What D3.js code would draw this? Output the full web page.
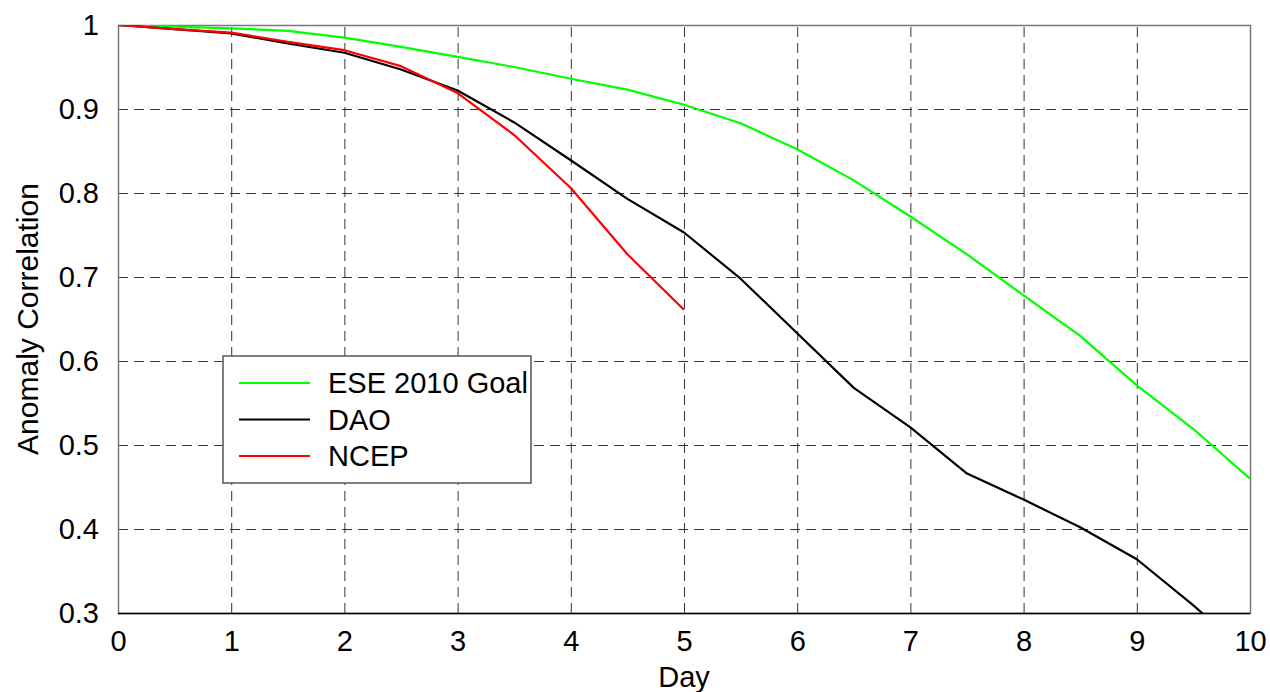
<!DOCTYPE html>
<head>
  <meta charset="utf-8">
  <title>Anomaly Correlation</title>
  <style>
    body { margin: 0; background: #fff; }
    text { font-family: "Liberation Sans", Arial, Helvetica, sans-serif; fill: #000; }
  </style>
</head>

<body>
  <div id="chart"></div>
<script src="https://cdn.jsdelivr.net/npm/d3@7/dist/d3.min.js"></script>
<script>

// days, every half day
var days = [0, 0.5, 1, 1.5, 2, 2.5, 3, 3.5, 4, 4.5, 5, 5.5, 6, 6.5, 7, 7.5, 8, 8.5, 9, 9.5, 10];

var goal = [1.0, 0.998, 0.996, 0.993, 0.985, 0.974, 0.962, 0.950, 0.936, 0.923, 0.905,
            0.883, 0.852, 0.815, 0.772, 0.727, 0.678, 0.630, 0.571, 0.519, 0.460];
var dao  = [1.0, 0.995, 0.990, 0.978, 0.967, 0.947, 0.922, 0.884, 0.839, 0.793, 0.753,
            0.698, 0.633, 0.568, 0.521, 0.466, 0.435, 0.402, 0.364, 0.309, 0.250];
var ncep = [1.0, 0.995, 0.991, 0.980, 0.970, 0.951, 0.919, 0.869, 0.806, 0.727, 0.661];

var xTicks = [0, 1, 2, 3, 4, 5, 6, 7, 8, 9, 10];
var yTicks = [0.3, 0.4, 0.5, 0.6, 0.7, 0.8, 0.9, 1];

var series = [
  {name: "ESE 2010 Goal", color: "#00ff00", values: goal},
  {name: "DAO", color: "#000000", values: dao},
  {name: "NCEP", color: "#ff0000", values: ncep}
];

var width = 1270,
    height = 692,
    margin = {top: 25, right: 20, bottom: 79, left: 118};

var x = d3.scaleLinear().domain([0, 10]).range([margin.left, width - margin.right]);
var y = d3.scaleLinear().domain([0.3, 1]).range([height - margin.bottom, margin.top]);

var svg = d3.select("#chart").append("svg")
    .attr("width", width)
    .attr("height", height);

svg.append("clipPath").attr("id", "plot")
  .append("rect")
    .attr("x", x(0)).attr("y", y(1))
    .attr("width", x(10) - x(0)).attr("height", y(0.3) - y(1));

// dashed grid
var grid = svg.append("g")
    .attr("stroke", "#333")
    .attr("stroke-width", 1)
    .attr("stroke-dasharray", "10,6");

grid.selectAll(".vgrid")
  .data(xTicks.slice(1, -1))
  .enter().append("line")
    .attr("x1", d => x(d) + 0.5).attr("x2", d => x(d) + 0.5)
    .attr("y1", y(0.3)).attr("y2", y(1));

grid.selectAll(".hgrid")
  .data(yTicks.slice(1, -1))
  .enter().append("line")
    .attr("y1", d => Math.round(y(d)) + 0.5).attr("y2", d => Math.round(y(d)) + 0.5)
    .attr("x1", x(0)).attr("x2", x(10));

// frame
svg.append("rect")
    .attr("x", x(0) + 0.5).attr("y", y(1) + 0.5)
    .attr("width", x(10) - x(0)).attr("height", y(0.3) - y(1))
    .attr("fill", "none")
    .attr("stroke", "#777")
    .attr("stroke-width", 1.5);

svg.append("line")
    .attr("x1", x(0)).attr("x2", x(10))
    .attr("y1", y(0.3) + 0.5).attr("y2", y(0.3) + 0.5)
    .attr("stroke", "#000").attr("stroke-width", 1.5);

// axes (labels only, the frame carries the lines)
var xAxis = svg.append("g")
    .attr("transform", "translate(0," + y(0.3) + ")")
    .call(d3.axisBottom(x).tickValues(xTicks).tickSize(0).tickPadding(17).tickFormat(d3.format("d")));
var yAxis = svg.append("g")
    .attr("transform", "translate(" + x(0) + ",0)")
    .call(d3.axisLeft(y).tickValues(yTicks).tickSize(0).tickPadding(19).tickFormat(d => d === 1 ? "1" : d3.format(".1f")(d)));

[xAxis, yAxis].forEach(function(a) {
  a.select(".domain").remove();
  a.selectAll("text").style("font-size", "29px").attr("fill", "#000");
});

// curves
var line = d3.line()
    .x((d, i) => x(days[i]))
    .y(d => y(d));

svg.append("g")
    .attr("clip-path", "url(#plot)")
  .selectAll("path")
  .data(series)
  .enter().append("path")
    .attr("d", d => line(d.values))
    .attr("fill", "none")
    .attr("stroke", d => d.color)
    .attr("stroke-width", 2.2)
    .attr("stroke-linejoin", "round");

// axis titles
svg.append("text")
    .attr("x", x(5))
    .attr("y", 687)
    .attr("text-anchor", "middle")
    .style("font-size", "29px")
    .text("Day");

svg.append("text")
    .attr("transform", "translate(38," + (y(0.65)) + ") rotate(-90)")
    .attr("text-anchor", "middle")
    .style("font-size", "30px")
    .text("Anomaly Correlation");

// legend
var legend = svg.append("g").attr("transform", "translate(223,356)");

legend.append("rect")
    .attr("width", 308).attr("height", 127)
    .attr("fill", "#fff")
    .attr("stroke", "#555")
    .attr("stroke-width", 1.5);

var item = legend.selectAll(".item")
  .data(series)
  .enter().append("g")
    .attr("transform", (d, i) => "translate(0," + (27 + i * 36.5) + ")");

item.append("line")
    .attr("x1", 16).attr("x2", 87)
    .attr("stroke", d => d.color)
    .attr("stroke-width", 2);

item.append("text")
    .attr("x", 105)
    .attr("dy", "0.35em")
    .style("font-size", "29px")
    .text(d => d.name);

</script>
</body>
</html>
